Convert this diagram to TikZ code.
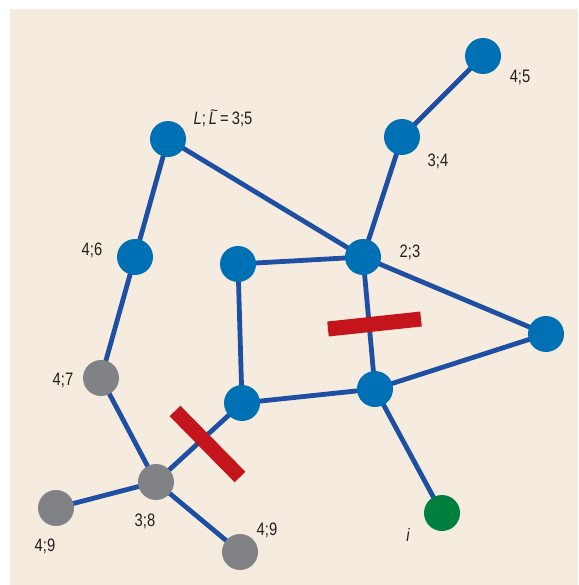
\documentclass[tikz,border=0pt]{standalone}
\usepackage{fontspec}
\usepackage{graphicx}
\setmainfont{Liberation Sans}[FakeStretch=0.82]
\definecolor{bg}{HTML}{F5ECDF}
\definecolor{nblue}{HTML}{0070B5}
\definecolor{eblue}{HTML}{1F4FA3}
\definecolor{ngray}{HTML}{808285}
\definecolor{ngreen}{HTML}{00803F}
\definecolor{bred}{HTML}{C4141C}
\definecolor{txt}{HTML}{231F20}
\newcommand{\tildeL}{\rlap{\raisebox{0.50em}{\kern0.08em\scalebox{0.9}[0.8]{\textasciitilde}}}{\itshape L}}
\begin{document}
\begin{tikzpicture}[x=1pt,y=-1pt,
  vb/.style={circle,fill=nblue,minimum size=36pt,inner sep=0pt},
  vg/.style={circle,fill=ngray,minimum size=36pt,inner sep=0pt},
  vgr/.style={circle,fill=ngreen,minimum size=36pt,inner sep=0pt},
  edge/.style={draw=eblue,line width=4.8pt},
  bar/.style={draw=bred,line width=15pt},
  lab/.style={text=txt,font=\fontsize{18}{20}\selectfont,inner sep=0pt}]
\useasboundingbox (0,0) rectangle (578,585);
\fill[bg] (10,9) rectangle (578,585);
% edges first (drawn behind nodes)
\coordinate (pA) at (483,56);
\coordinate (pB) at (402,137);
\coordinate (pC) at (168,139);
\coordinate (pD) at (363,257);
\coordinate (pE) at (135,257);
\coordinate (pF) at (238,264);
\coordinate (pG) at (546,334);
\coordinate (pH) at (101,378);
\coordinate (pI) at (375,389);
\coordinate (pJ) at (242,403);
\coordinate (pK) at (156,482);
\coordinate (pL) at (56,508);
\coordinate (pM) at (240,552);
\coordinate (pN) at (442,513);
\draw[edge] (pA) -- (pB);
\draw[edge] (pB) -- (pD);
\draw[edge] (pC) -- (pD);
\draw[edge] (pC) -- (pE);
\draw[edge] (pE) -- (pH);
\draw[edge] (pH) -- (pK);
\draw[edge] (pK) -- (pL);
\draw[edge] (pK) -- (pM);
\draw[edge] (pK) -- (pJ);
\draw[edge] (pJ) -- (pF);
\draw[edge] (pF) -- (pD);
\draw[edge] (pD) -- (pI);
\draw[edge] (pD) -- (pG);
\draw[edge] (pG) -- (pI);
\draw[edge] (pI) -- (pJ);
\draw[edge] (pI) -- (pN);
% nodes
\node[vb] (A) at (pA) {};
\node[vb] (B) at (pB) {};
\node[vb] (C) at (pC) {};
\node[vb] (D) at (pD) {};
\node[vb] (E) at (pE) {};
\node[vb] (F) at (pF) {};
\node[vb] (G) at (pG) {};
\node[vg] (H) at (pH) {};
\node[vb] (I) at (pI) {};
\node[vb] (J) at (pJ) {};
\node[vg] (K) at (pK) {};
\node[vg] (L) at (pL) {};
\node[vg] (M) at (pM) {};
\node[vgr] (N) at (pN) {};
% red bars
\coordinate (r1a) at (328,329);
\coordinate (r1b) at (421,319);
\coordinate (r2a) at (175,411);
\coordinate (r2b) at (240,477);
\draw[bar] (r1a) -- (r1b);
\draw[bar] (r2a) -- (r2b);
% labels
\node[lab] (tC) at (223,118) {{\itshape L};\,\tildeL\,=\,3;5};
\node[lab] (tA) at (520,77) {4;5};
\node[lab] (tB) at (438,161) {3;4};
\node[lab] (tD) at (410,252) {2;3};
\node[lab] (tE) at (92,250) {4;6};
\node[lab] (tH) at (63,380) {4;7};
\node[lab] (tK) at (145,521) {3;8};
\node[lab] (tL) at (45,546) {4;9};
\node[lab] (tM) at (267,530) {4;9};
\node[lab] (tN) at (408,535) {\itshape i};
\end{tikzpicture}
\end{document}
